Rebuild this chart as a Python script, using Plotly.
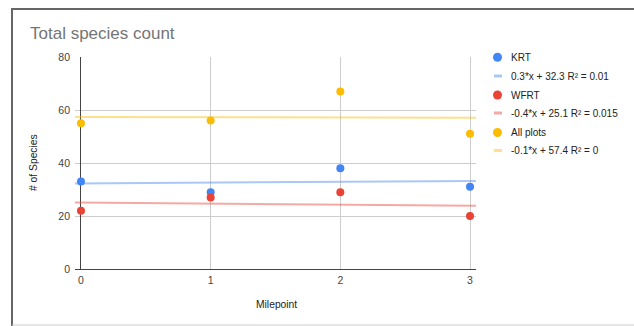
import numpy as np
import plotly.graph_objects as go

# ---- data ----
milepoints = [0, 1, 2, 3]
krt = [33, 29, 38, 31]
wfrt = [22, 27, 29, 20]
all_plots = [55, 56, 67, 51]
series_names = ["KRT", "WFRT", "All plots"]
series_colors = ["#4285F4", "#EA4335", "#FBBC04"]
y_ticks = [0, 20, 40, 60, 80]
x_ticks = [0, 1, 2, 3]
title_text = "Total species count"
x_title = "Milepoint"
y_title = "# of Species"

# ---- layout geometry (pixels) ----
W_FIG, H_FIG = 634, 326
L, R, T, B = 75, 158, 57, 57
PW = W_FIG - L - R
PH = H_FIG - T - B
X_RANGE = [-0.046, 3.046]


def xp(px):
    return (px - L) / PW


def yp(py):
    return (H_FIG - B - py) / PH


def fmt_r2(v):
    s = f"{v:.3f}".rstrip("0").rstrip(".")
    return s if s else "0"


fig = go.Figure()
series = [krt, wfrt, all_plots]
legend_labels = []
for name, vals, col in zip(series_names, series, series_colors):
    x = np.array(milepoints, float)
    y = np.array(vals, float)
    m, c = np.polyfit(x, y, 1)
    pred = m * x + c
    r2 = 1 - ((y - pred) ** 2).sum() / ((y - y.mean()) ** 2).sum()
    lbl = f"{m:.1f}*x + {c:.1f} R² = {fmt_r2(r2)}"
    legend_labels.append((name, lbl))
    xs = np.array(X_RANGE)
    fig.add_trace(go.Scatter(x=xs, y=m * xs + c, mode="lines",
                             line=dict(color=col, width=2), opacity=0.45,
                             showlegend=False, hoverinfo="skip", cliponaxis=True))
for name, vals, col in zip(series_names, series, series_colors):
    fig.add_trace(go.Scatter(x=milepoints, y=vals, mode="markers", name=name,
                             marker=dict(color=col, size=8), showlegend=False,
                             cliponaxis=False))

shapes = []
annotations = []
# border of the screenshot
shapes.append(dict(type="line", xref="paper", yref="paper", x0=xp(12), x1=xp(640),
                   y0=yp(9), y1=yp(9), line=dict(color="#666666", width=2)))
shapes.append(dict(type="line", xref="paper", yref="paper", x0=xp(12), x1=xp(12),
                   y0=yp(8), y1=yp(330), line=dict(color="#666666", width=2)))
shapes.append(dict(type="line", xref="paper", yref="paper", x0=xp(12), x1=xp(640),
                   y0=yp(325), y1=yp(325), line=dict(color="#cccccc", width=1)))

# manual legend
leg_y = [57.3, 76, 95, 113, 132.5, 150.5]
i = 0
for (name, lbl), col in zip(legend_labels, series_colors):
    cy = leg_y[i]
    shapes.append(dict(type="circle", xref="paper", yref="paper", xsizemode="pixel",
                       ysizemode="pixel", xanchor=xp(497.5), yanchor=yp(cy),
                       x0=-4.5, x1=4.5, y0=-4.5, y1=4.5,
                       fillcolor=col, line=dict(width=0)))
    annotations.append(dict(xref="paper", yref="paper", x=xp(509), y=yp(cy),
                            xanchor="left", yanchor="middle", showarrow=False,
                            text=name, font=dict(size=10, color="#222222")))
    cy = leg_y[i + 1]
    shapes.append(dict(type="line", xref="paper", yref="paper", x0=xp(494), x1=xp(502),
                       y0=yp(cy), y1=yp(cy), opacity=0.45,
                       line=dict(color=col, width=3)))
    annotations.append(dict(xref="paper", yref="paper", x=xp(509), y=yp(cy),
                            xanchor="left", yanchor="middle", showarrow=False,
                            text=lbl, font=dict(size=10, color="#222222")))
    i += 2

# titles
annotations.append(dict(xref="paper", yref="paper", x=xp(28), y=yp(33),
                        xanchor="left", yanchor="middle", showarrow=False,
                        text=title_text, font=dict(size=17, color="#757575")))
annotations.append(dict(xref="paper", yref="paper", x=xp(276), y=yp(304),
                        xanchor="center", yanchor="middle", showarrow=False,
                        text=x_title, font=dict(size=10.3, color="#222222")))
annotations.append(dict(xref="paper", yref="paper", x=xp(33), y=yp(163),
                        xanchor="center", yanchor="middle", showarrow=False,
                        textangle=-90,
                        text=y_title, font=dict(size=10.3, color="#222222")))

fig.update_layout(
    width=W_FIG, height=H_FIG,
    margin=dict(l=L, r=R, t=T, b=B),
    paper_bgcolor="white", plot_bgcolor="white",
    font=dict(family="Liberation Sans, Arial, sans-serif"),
    shapes=shapes, annotations=annotations,
    showlegend=False,
    xaxis=dict(range=X_RANGE, tickvals=x_ticks, ticktext=[str(v) for v in x_ticks],
               showgrid=True, gridcolor="#cccccc", gridwidth=1,
               zeroline=True, zerolinecolor="#444444", zerolinewidth=1,
               showline=False, ticks="", ticklabelstandoff=3,
               tickfont=dict(size=10.5, color="#444444"), fixedrange=True),
    yaxis=dict(range=[0, 80], tickvals=y_ticks, ticktext=[str(v) for v in y_ticks],
               showgrid=True, gridcolor="#cccccc", gridwidth=1,
               zeroline=True, zerolinecolor="#444444", zerolinewidth=1,
               showline=False, ticks="", ticklabelstandoff=4,
               tickfont=dict(size=10.5, color="#444444"), fixedrange=True),
)

fig.write_html("out.html", config={"displayModeBar": False},
               post_script="document.body.style.margin='0';document.body.style.overflow='hidden';")
